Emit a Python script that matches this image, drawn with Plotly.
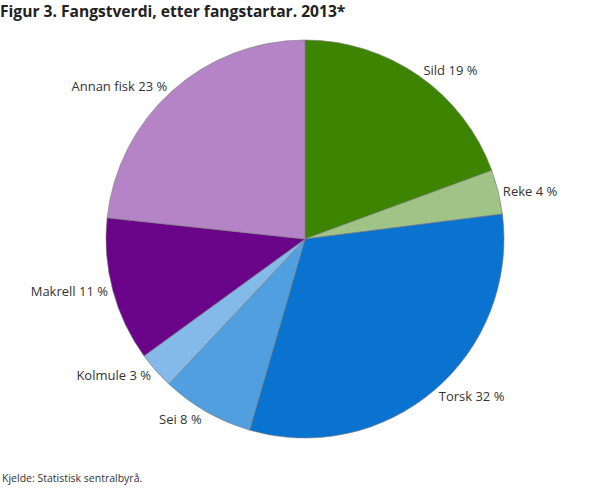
import plotly.graph_objects as go

categories = ["Sild", "Reke", "Torsk", "Sei", "Kolmule", "Makrell", "Annan fisk"]
values = [19.4, 3.6, 31.5, 7.5, 3.0, 11.7, 23.3]
shown_pct = [19, 4, 32, 8, 3, 11, 23]
colors = ["#3d8500", "#a0c487", "#0a72cf", "#529fdf", "#84baea", "#6a0589", "#b584c6"]

labels_text = [f"{c} {p} %" for c, p in zip(categories, shown_pct)]

fig = go.Figure(go.Pie(
    labels=categories,
    values=values,
    text=labels_text,
    textinfo="text",
    textposition="outside",
    sort=False,
    direction="clockwise",
    rotation=0,
    marker=dict(colors=colors, line=dict(color="#7a7a7a", width=0.6)),
    outsidetextfont=dict(family="Open Sans", size=13, color="#333333"),
    showlegend=False,
    hoverinfo="label+percent",
))

fig.update_layout(
    width=610, height=488,
    margin=dict(l=106, r=106, t=40, b=50),
    paper_bgcolor="white",
    title=dict(
        text="<b>Figur 3. Fangstverdi, etter fangstartar. 2013*</b>",
        x=0.0, xanchor="left", y=0.977, yanchor="middle",
        font=dict(family="Open Sans", size=15.6, color="#222222"),
    ),
    annotations=[dict(
        text="Kjelde: Statistisk sentralbyrå.",
        xref="paper", yref="paper", x=-106/398, y=-40/398,
        xanchor="left", yanchor="middle", showarrow=False,
        font=dict(family="Open Sans", size=10.5, color="#333333"),
    )],
)

fig.write_html(
    "out.html",
    config={"displayModeBar": False},
    post_script="document.body.style.margin='0';document.body.style.padding='0';",
)
